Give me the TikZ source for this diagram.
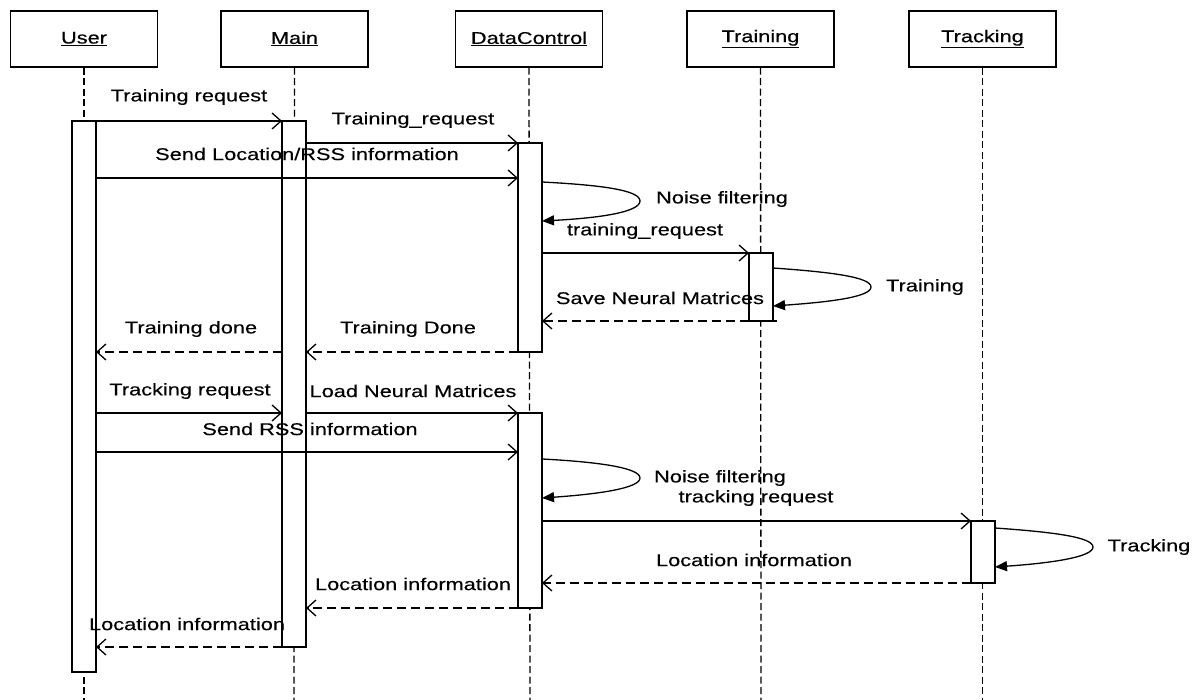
\documentclass[tikz,border=0pt]{standalone}
\usepackage{fontspec}
\setmainfont{Liberation Sans}[FakeStretch=1.28,FakeBold=0.3]
\usetikzlibrary{arrows.meta}
\begin{document}
\begin{tikzpicture}[x=1pt,y=-1pt,
  lbl/.style={font=\fontsize{17}{20}\selectfont, inner sep=0pt, anchor=center},
  head/.style={draw, line width=1.6pt, minimum width=147pt, minimum height=56pt, inner sep=0pt, anchor=north, font=\fontsize{17}{20}\selectfont},
  act/.style={draw, fill=white, line width=1.4pt, minimum width=24pt, inner sep=0pt, outer sep=0pt, anchor=north},
  msg/.style={line width=1.3pt, -{Straight Barb[length=9pt,width=16pt,line width=1.3pt]}},
  ret/.style={msg, dash pattern=on 9pt off 5pt},
  selfmsg/.style={line width=1.3pt, -{Triangle[length=12pt,width=10pt]}},
  life/.style={line width=1.3pt, dash pattern=on 7pt off 3.5pt}]
\useasboundingbox (0,0) rectangle (1202,700);
% headers
\node[head] (hU) at (84,10) {\underline{User}};
\node[head] (hM) at (294.5,10) {\underline{Main}};
\node[head] (hD) at (529,10) {\underline{DataControl}};
\node[head] (hT) at (760.5,10) {\underline{Training}};
\node[head] (hK) at (982.5,10) {\underline{Tracking}};
% lifeline ends
\coordinate (eU) at (84,700);
\coordinate (eM) at (294,700);
\coordinate (eD) at (530,700);
\coordinate (eT) at (761,700);
\coordinate (eK) at (982.5,700);
\draw[life] (hU.south) -- (eU);
\draw[life] (hM.south) -- (eM);
\draw[life] (hD.south) -- (eD);
\draw[life] (hT.south) -- (eT);
\draw[life] (hK.south) -- (eK);
% activations
\node[act, minimum height=551pt] (aU) at (84,121) {};
\node[act, minimum height=526pt] (aM) at (294,121) {};
\node[act, minimum height=209pt] (aD1) at (530,143) {};
\node[act, minimum height=68pt] (aT) at (761,253) {};
\node[act, minimum height=195pt] (aD2) at (530,413) {};
\node[act, minimum height=62pt] (aK) at (983,521) {};
% message end points
\coordinate (m1a) at (96,121);  \coordinate (m1b) at (282,121);
\coordinate (m2a) at (306,143); \coordinate (m2b) at (518,143);
\coordinate (m3a) at (96,178);  \coordinate (m3b) at (518,178);
\coordinate (n1a) at (542,182); \coordinate (n1b) at (542,221);
\coordinate (m5a) at (542,253); \coordinate (m5b) at (749,253);
\coordinate (n2a) at (773,268); \coordinate (n2b) at (773,306);
\coordinate (m7a) at (777,321); \coordinate (m7b) at (542,321);
\coordinate (m8a) at (282,352); \coordinate (m8b) at (96,352);
\coordinate (m9a) at (518,352); \coordinate (m9b) at (306,352);
\coordinate (m10a) at (96,413); \coordinate (m10b) at (282,413);
\coordinate (m11a) at (306,413); \coordinate (m11b) at (518,413);
\coordinate (m12a) at (96,452); \coordinate (m12b) at (518,452);
\coordinate (n3a) at (542,459); \coordinate (n3b) at (542,498);
\coordinate (m14a) at (542,521); \coordinate (m14b) at (971,521);
\coordinate (n4a) at (995,528); \coordinate (n4b) at (995,567);
\coordinate (m16a) at (971,583); \coordinate (m16b) at (542,583);
\coordinate (m17a) at (518,608); \coordinate (m17b) at (306,608);
\coordinate (m18a) at (282,647); \coordinate (m18b) at (96,647);
% messages
\draw[msg] (m1a) -- (m1b);
\draw[msg] (m2a) -- (m2b);
\draw[msg] (m3a) -- (m3b);
\draw[selfmsg] (n1a) .. controls (600,185) and (640,190) .. (640,201) .. controls (640,212) and (600,218) .. (n1b);
\draw[msg] (m5a) -- (m5b);
\draw[selfmsg] (n2a) .. controls (830,272) and (871,277) .. (871,287) .. controls (871,297) and (830,302) .. (n2b);
\draw[ret] (m7a) -- (m7b);
\draw[ret] (m8a) -- (m8b);
\draw[ret] (m9a) -- (m9b);
\draw[msg] (m10a) -- (m10b);
\draw[msg] (m11a) -- (m11b);
\draw[msg] (m12a) -- (m12b);
\draw[selfmsg] (n3a) .. controls (600,462) and (640,468) .. (640,478) .. controls (640,488) and (600,494) .. (n3b);
\draw[msg] (m14a) -- (m14b);
\draw[selfmsg] (n4a) .. controls (1052,532) and (1093,537) .. (1093,547) .. controls (1093,557) and (1052,563) .. (n4b);
\draw[ret] (m16a) -- (m16b);
\draw[ret] (m17a) -- (m17b);
\draw[ret] (m18a) -- (m18b);
% labels
\node[lbl] (l1) at (189,97) {Training request};
\node[lbl] (l2) at (413,120) {Training\_request};
\node[lbl] (l3) at (307,154) {Send Location/RSS information};
\node[lbl] (l4) at (722,199) {Noise filtering};
\node[lbl] (l5) at (645,231) {training\_request};
\node[lbl] (l6) at (925,287) {Training};
\node[lbl] (l7) at (660,298) {Save Neural Matrices};
\node[lbl] (l8) at (191,329) {Training done};
\node[lbl] (l9) at (408,329) {Training Done};
\node[lbl] (l10) at (190,391) {Tracking request};
\node[lbl] (l11) at (413,391) {Load Neural Matrices};
\node[lbl] (l12) at (310,429) {Send RSS information};
\node[lbl] (l13) at (720,478) {Noise filtering};
\node[lbl] (l14) at (756,498) {tracking request};
\node[lbl] (l15) at (1149,547) {Tracking};
\node[lbl] (l16) at (754,560) {Location information};
\node[lbl] (l17) at (413,584) {Location information};
\node[lbl] (l18) at (187,624) {Location information};
\end{tikzpicture}
\end{document}
